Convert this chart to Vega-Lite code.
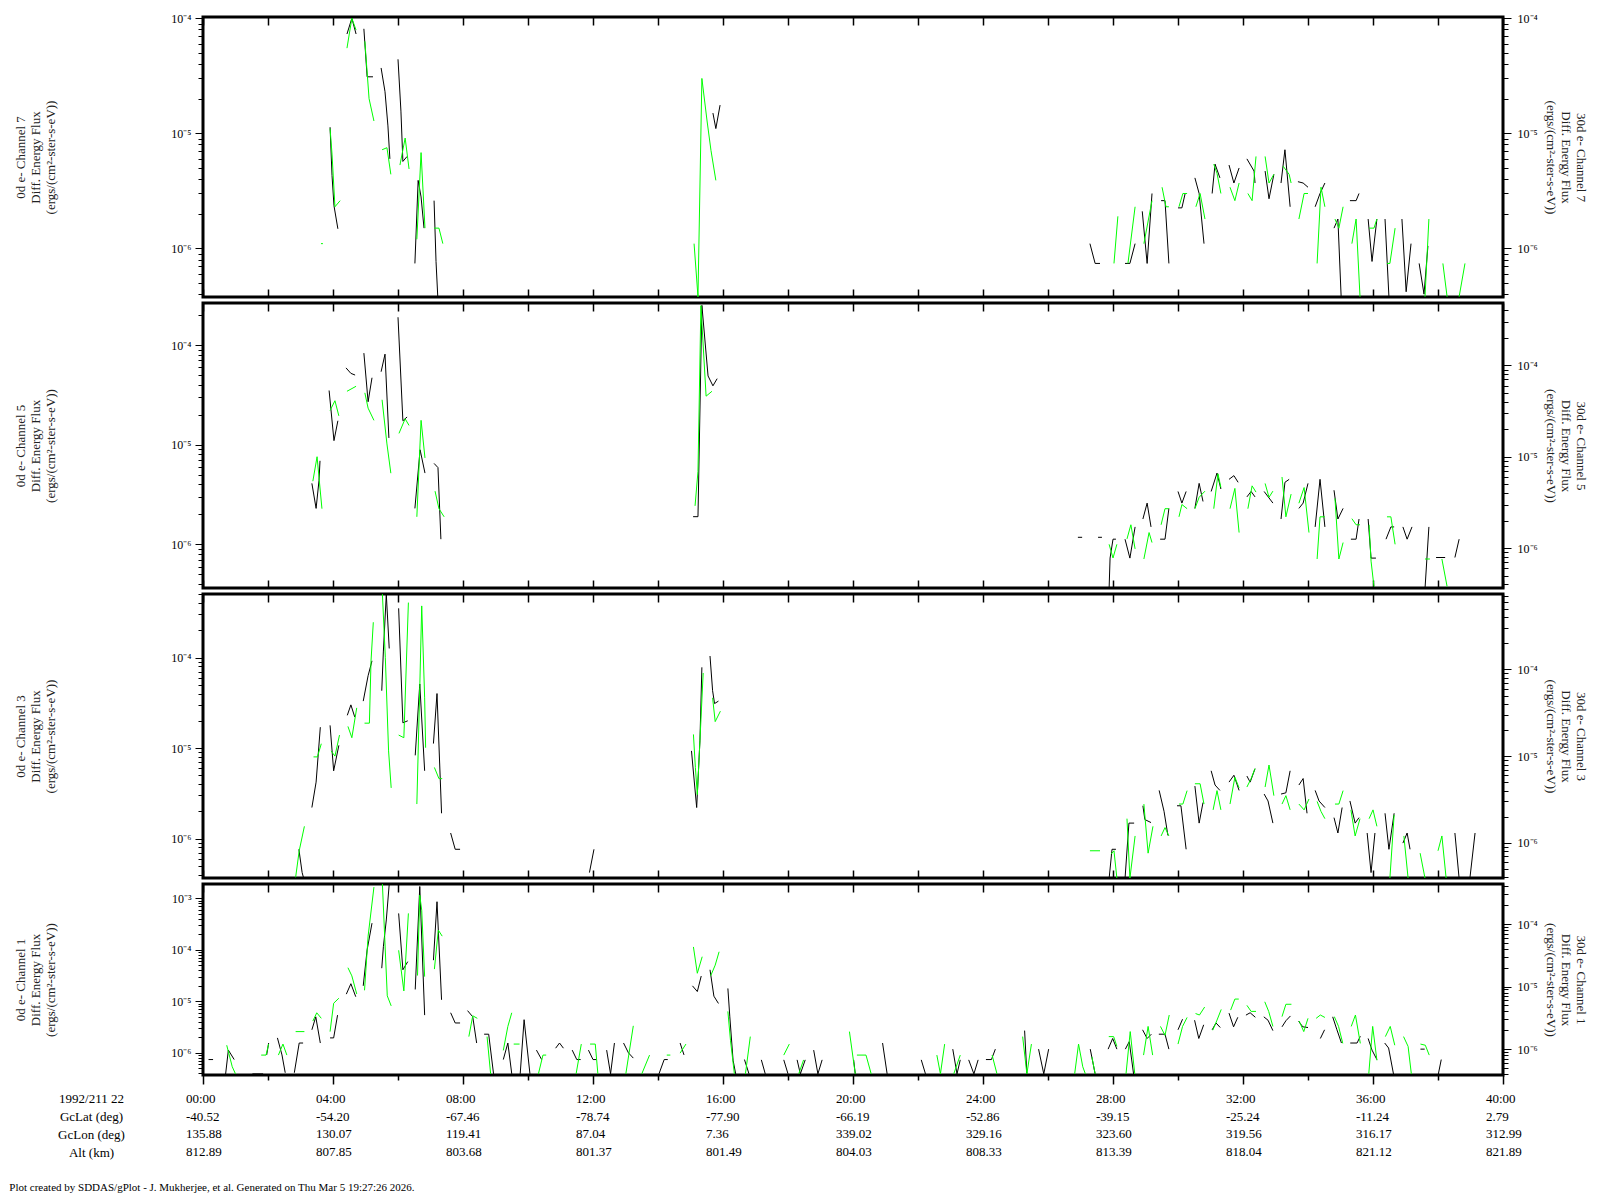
{
"$schema": "https://vega.github.io/schema/vega-lite/v6.json",
"padding": {"left": 9, "top": 10, "right": 0, "bottom": 0},
"background": "white",
"bounds": "flush",
"title": {"text": "Plot created by SDDAS/gPlot - J. Mukherjee, et al.  Generated on Thu Mar 5 19:27:26 2026.", "orient": "bottom", "anchor": "start", "fontSize": 11, "font": "Liberation Serif, Times New Roman, serif", "fontWeight": "normal", "offset": 12, "color": "#000", "dx": -4},
"datasets": {
"p7k": [
{"g":1,"t":3.91,"v":1.13e-5},{"g":1,"t":3.97,"v":4.3e-6},{"g":1,"t":4.03,"v":2.35e-6},{"g":1,"t":4.15,"v":1.48e-6},
{"g":2,"t":4.43,"v":7.3e-5},{"g":2,"t":4.58,"v":1.0e-4},{"g":2,"t":4.71,"v":7.3e-5},
{"g":3,"t":4.95,"v":8.1e-5},{"g":3,"t":5.05,"v":3.1e-5},{"g":3,"t":5.23,"v":3.1e-5},
{"g":4,"t":5.48,"v":3.7e-5},{"g":4,"t":5.6,"v":2.3e-5},{"g":4,"t":5.69,"v":1.16e-5},{"g":4,"t":5.75,"v":6.0e-6},
{"g":5,"t":6.0,"v":4.4e-5},{"g":5,"t":6.09,"v":1.56e-5},{"g":5,"t":6.15,"v":5.7e-6},{"g":5,"t":6.28,"v":6.3e-6},
{"g":6,"t":6.52,"v":7.4e-7},{"g":6,"t":6.62,"v":3.9e-6},{"g":6,"t":6.71,"v":2.8e-6},{"g":6,"t":6.8,"v":1.5e-6},
{"g":7,"t":7.11,"v":2.6e-6},{"g":7,"t":7.17,"v":7.7e-7},{"g":7,"t":7.23,"v":3.5e-7},
{"g":8,"t":15.69,"v":1.5e-5},{"g":8,"t":15.78,"v":1.1e-5},{"g":8,"t":15.91,"v":1.76e-5},
{"g":9,"t":27.29,"v":1.1e-6},{"g":9,"t":27.45,"v":7.4e-7},{"g":9,"t":27.6,"v":7.4e-7},
{"g":10,"t":28.37,"v":7.4e-7},{"g":10,"t":28.52,"v":7.4e-7},{"g":10,"t":28.68,"v":1.1e-6},
{"g":11,"t":28.9,"v":2.1e-6},{"g":11,"t":29.05,"v":7.4e-7},{"g":11,"t":29.2,"v":3.0e-6},
{"g":12,"t":29.48,"v":2.6e-6},{"g":12,"t":29.6,"v":2.6e-6},{"g":12,"t":29.72,"v":7.4e-7},
{"g":13,"t":30.0,"v":2.25e-6},{"g":13,"t":30.12,"v":2.25e-6},{"g":13,"t":30.22,"v":3.0e-6},
{"g":14,"t":30.52,"v":4.1e-6},{"g":14,"t":30.65,"v":3.0e-6},{"g":14,"t":30.8,"v":1.1e-6},
{"g":15,"t":31.05,"v":3.0e-6},{"g":15,"t":31.14,"v":5.4e-6},{"g":15,"t":31.29,"v":4.1e-6},
{"g":16,"t":31.57,"v":5.3e-6},{"g":16,"t":31.72,"v":3.7e-6},{"g":16,"t":31.88,"v":5.0e-6},
{"g":17,"t":32.12,"v":6.0e-6},{"g":17,"t":32.34,"v":4.7e-6},{"g":17,"t":32.37,"v":3.7e-6},
{"g":18,"t":32.68,"v":4.7e-6},{"g":18,"t":32.8,"v":2.7e-6},{"g":18,"t":32.95,"v":4.4e-6},
{"g":19,"t":33.17,"v":3.7e-6},{"g":19,"t":33.29,"v":7.2e-6},{"g":19,"t":33.45,"v":2.3e-6},
{"g":20,"t":33.69,"v":3.8e-6},{"g":20,"t":33.85,"v":3.7e-6},{"g":20,"t":34.0,"v":3.4e-6},
{"g":21,"t":34.22,"v":2.3e-6},{"g":21,"t":34.37,"v":3.0e-6},{"g":21,"t":34.52,"v":3.7e-6},
{"g":22,"t":34.8,"v":1.5e-6},{"g":22,"t":34.92,"v":1.8e-6},{"g":22,"t":35.02,"v":3.8e-7},
{"g":23,"t":35.29,"v":2.6e-6},{"g":23,"t":35.48,"v":2.6e-6},{"g":23,"t":35.57,"v":3.0e-6},
{"g":24,"t":35.85,"v":1.8e-6},{"g":24,"t":35.97,"v":7.7e-7},{"g":24,"t":36.12,"v":1.8e-6},
{"g":25,"t":36.37,"v":1.8e-6},{"g":25,"t":36.49,"v":3.8e-7},
{"g":26,"t":36.89,"v":1.8e-6},{"g":26,"t":37.02,"v":4.2e-7},{"g":26,"t":37.17,"v":1.1e-6},
{"g":27,"t":37.42,"v":7.4e-7},{"g":27,"t":37.57,"v":4.0e-7},{"g":27,"t":37.69,"v":1.05e-6}
],
"p7g": [
{"g":1,"t":3.63,"v":1.1e-6},{"g":1,"t":3.69,"v":1.1e-6},
{"g":2,"t":3.91,"v":1.1e-5},{"g":2,"t":3.97,"v":6.6e-6},{"g":2,"t":4.06,"v":2.3e-6},{"g":2,"t":4.22,"v":2.6e-6},
{"g":3,"t":4.43,"v":5.5e-5},{"g":3,"t":4.58,"v":1.0e-4},{"g":3,"t":4.71,"v":7.9e-5},
{"g":4,"t":4.98,"v":6.3e-5},{"g":4,"t":5.11,"v":2.0e-5},{"g":4,"t":5.26,"v":1.28e-5},
{"g":5,"t":5.51,"v":7.2e-6},{"g":5,"t":5.66,"v":7.5e-6},{"g":5,"t":5.78,"v":4.4e-6},
{"g":6,"t":6.06,"v":5.3e-6},{"g":6,"t":6.22,"v":9.1e-6},{"g":6,"t":6.34,"v":4.9e-6},
{"g":7,"t":6.58,"v":1.2e-6},{"g":7,"t":6.71,"v":6.8e-6},{"g":7,"t":6.83,"v":1.5e-6},
{"g":8,"t":7.11,"v":1.5e-6},{"g":8,"t":7.26,"v":1.5e-6},{"g":8,"t":7.38,"v":1.1e-6},
{"g":9,"t":15.11,"v":1.1e-6},{"g":9,"t":15.23,"v":3.8e-7},{"g":9,"t":15.35,"v":3.0e-5},{"g":9,"t":15.51,"v":1.28e-5},{"g":9,"t":15.63,"v":7.1e-6},{"g":9,"t":15.78,"v":3.9e-6},
{"g":10,"t":28.03,"v":7.4e-7},{"g":10,"t":28.15,"v":1.9e-6},
{"g":11,"t":28.46,"v":7.4e-7},{"g":11,"t":28.68,"v":2.3e-6},
{"g":12,"t":28.95,"v":1.1e-6},{"g":12,"t":29.2,"v":2.6e-6},
{"g":13,"t":29.51,"v":3.4e-6},{"g":13,"t":29.63,"v":2.3e-6},{"g":13,"t":29.72,"v":2.3e-6},
{"g":14,"t":30.03,"v":2.3e-6},{"g":14,"t":30.15,"v":3.0e-6},{"g":14,"t":30.28,"v":3.0e-6},
{"g":15,"t":30.55,"v":2.3e-6},{"g":15,"t":30.68,"v":3.0e-6},{"g":15,"t":30.83,"v":1.8e-6},
{"g":16,"t":31.1,"v":5.4e-6},{"g":16,"t":31.2,"v":4.5e-6},{"g":16,"t":31.32,"v":3.0e-6},
{"g":17,"t":31.6,"v":3.4e-6},{"g":17,"t":31.75,"v":2.6e-6},{"g":17,"t":31.88,"v":3.7e-6},
{"g":18,"t":32.15,"v":3.0e-6},{"g":18,"t":32.28,"v":2.6e-6},{"g":18,"t":32.4,"v":6.3e-6},
{"g":19,"t":32.68,"v":6.3e-6},{"g":19,"t":32.8,"v":3.7e-6},{"g":19,"t":32.95,"v":4.4e-6},
{"g":20,"t":33.23,"v":5.2e-6},{"g":20,"t":33.42,"v":4.4e-6},{"g":20,"t":33.48,"v":3.7e-6},
{"g":21,"t":33.72,"v":1.8e-6},{"g":21,"t":33.88,"v":3.0e-6},{"g":21,"t":34.0,"v":3.0e-6},
{"g":22,"t":34.28,"v":7.4e-7},{"g":22,"t":34.4,"v":3.4e-6},{"g":22,"t":34.52,"v":2.3e-6},
{"g":23,"t":34.83,"v":1.8e-6},{"g":23,"t":34.95,"v":1.5e-6},{"g":23,"t":35.08,"v":2.3e-6},
{"g":24,"t":35.35,"v":1.1e-6},{"g":24,"t":35.48,"v":1.8e-6},{"g":24,"t":35.6,"v":3.8e-7},
{"g":25,"t":35.88,"v":1.5e-6},{"g":25,"t":36.03,"v":1.5e-6},{"g":25,"t":36.12,"v":1.8e-6},
{"g":26,"t":36.43,"v":7.4e-7},{"g":26,"t":36.52,"v":7.4e-7},{"g":26,"t":36.68,"v":1.5e-6},
{"g":27,"t":37.6,"v":3.8e-7},{"g":27,"t":37.72,"v":1.8e-6},
{"g":28,"t":38.15,"v":7.4e-7},{"g":28,"t":38.28,"v":3.8e-7},
{"g":29,"t":38.65,"v":3.8e-7},{"g":29,"t":38.83,"v":7.4e-7}
],
"p5k": [
{"g":1,"t":3.35,"v":4.1e-6},{"g":1,"t":3.48,"v":2.3e-6},{"g":1,"t":3.57,"v":4.4e-6},{"g":1,"t":3.6,"v":6.9e-6},
{"g":2,"t":3.88,"v":3.5e-5},{"g":2,"t":4.03,"v":1.1e-5},{"g":2,"t":4.15,"v":1.74e-5},
{"g":3,"t":4.4,"v":5.9e-5},{"g":3,"t":4.55,"v":5.2e-5},{"g":3,"t":4.68,"v":5.0e-5},
{"g":4,"t":4.95,"v":8.3e-5},{"g":4,"t":5.08,"v":2.7e-5},{"g":4,"t":5.2,"v":4.7e-5},
{"g":5,"t":5.48,"v":5.4e-5},{"g":5,"t":5.6,"v":8.1e-5},{"g":5,"t":5.72,"v":1.17e-5},
{"g":6,"t":6.0,"v":1.9e-4},{"g":6,"t":6.15,"v":1.74e-5},{"g":6,"t":6.28,"v":1.9e-5},
{"g":7,"t":6.52,"v":2.3e-6},{"g":7,"t":6.68,"v":8.9e-6},{"g":7,"t":6.83,"v":5.2e-6},
{"g":8,"t":7.11,"v":6.5e-6},{"g":8,"t":7.23,"v":5.9e-6},{"g":8,"t":7.32,"v":1.13e-6},
{"g":9,"t":15.08,"v":1.9e-6},{"g":9,"t":15.23,"v":1.9e-6},{"g":9,"t":15.35,"v":2.5e-4},{"g":9,"t":15.54,"v":4.9e-5},{"g":9,"t":15.69,"v":3.9e-5},{"g":9,"t":15.82,"v":4.6e-5},
{"g":10,"t":26.92,"v":1.18e-6},{"g":10,"t":27.05,"v":1.18e-6},
{"g":11,"t":27.54,"v":1.18e-6},{"g":11,"t":27.66,"v":1.18e-6},
{"g":12,"t":27.88,"v":3.6e-7},{"g":12,"t":27.91,"v":7.3e-7},{"g":12,"t":28.0,"v":1.13e-6},{"g":12,"t":28.09,"v":1.13e-6},
{"g":13,"t":28.37,"v":1.13e-6},{"g":13,"t":28.52,"v":7.3e-7},{"g":13,"t":28.68,"v":1.5e-6},
{"g":14,"t":28.92,"v":1.8e-6},{"g":14,"t":29.05,"v":2.6e-6},{"g":14,"t":29.17,"v":1.5e-6},
{"g":15,"t":29.45,"v":1.13e-6},{"g":15,"t":29.6,"v":1.13e-6},{"g":15,"t":29.72,"v":2.3e-6},
{"g":16,"t":30.0,"v":3.4e-6},{"g":16,"t":30.12,"v":2.6e-6},{"g":16,"t":30.25,"v":3.4e-6},
{"g":17,"t":30.52,"v":2.3e-6},{"g":17,"t":30.65,"v":4.1e-6},{"g":17,"t":30.77,"v":2.7e-6},
{"g":18,"t":31.02,"v":3.4e-6},{"g":18,"t":31.2,"v":5.2e-6},{"g":18,"t":31.32,"v":3.6e-6},
{"g":19,"t":31.57,"v":4.5e-6},{"g":19,"t":31.72,"v":4.9e-6},{"g":19,"t":31.85,"v":4.2e-6},
{"g":20,"t":32.12,"v":3.0e-6},{"g":20,"t":32.25,"v":3.4e-6},{"g":20,"t":32.37,"v":3.0e-6},
{"g":21,"t":32.65,"v":3.4e-6},{"g":21,"t":32.92,"v":2.6e-6},
{"g":22,"t":33.17,"v":1.8e-6},{"g":22,"t":33.29,"v":4.2e-6},{"g":22,"t":33.42,"v":4.5e-6},
{"g":23,"t":33.72,"v":2.3e-6},{"g":23,"t":33.85,"v":2.6e-6},{"g":23,"t":34.0,"v":4.1e-6},
{"g":24,"t":34.22,"v":1.5e-6},{"g":24,"t":34.37,"v":4.5e-6},{"g":24,"t":34.52,"v":1.5e-6},
{"g":25,"t":34.8,"v":3.5e-6},{"g":25,"t":34.92,"v":1.8e-6},{"g":25,"t":35.08,"v":2.3e-6},
{"g":26,"t":35.32,"v":1.13e-6},{"g":26,"t":35.48,"v":1.13e-6},{"g":26,"t":35.57,"v":1.8e-6},
{"g":27,"t":35.85,"v":1.8e-6},{"g":27,"t":35.94,"v":7.3e-7},{"g":27,"t":36.09,"v":7.3e-7},
{"g":28,"t":36.4,"v":1.13e-6},{"g":28,"t":36.55,"v":1.5e-6},{"g":28,"t":36.65,"v":1.5e-6},
{"g":29,"t":36.92,"v":1.5e-6},{"g":29,"t":37.05,"v":1.13e-6},{"g":29,"t":37.2,"v":1.5e-6},
{"g":30,"t":37.6,"v":3.6e-7},{"g":30,"t":37.72,"v":1.5e-6},
{"g":31,"t":37.94,"v":7.4e-7},{"g":31,"t":38.22,"v":7.4e-7},
{"g":32,"t":38.52,"v":7.4e-7},{"g":32,"t":38.65,"v":1.13e-6}
],
"p5g": [
{"g":1,"t":3.38,"v":5.4e-6},{"g":1,"t":3.51,"v":1.0e-5},{"g":1,"t":3.57,"v":5.9e-6},{"g":1,"t":3.66,"v":2.7e-6},
{"g":2,"t":3.91,"v":3.2e-5},{"g":2,"t":4.06,"v":4.1e-5},{"g":2,"t":4.18,"v":2.8e-5},
{"g":3,"t":4.43,"v":5.2e-5},{"g":3,"t":4.71,"v":5.9e-5},
{"g":4,"t":4.98,"v":5.0e-5},{"g":4,"t":5.08,"v":3.4e-5},{"g":4,"t":5.26,"v":2.5e-5},
{"g":5,"t":5.51,"v":4.2e-5},{"g":5,"t":5.66,"v":1.38e-5},{"g":5,"t":5.78,"v":6.6e-6},
{"g":6,"t":6.03,"v":1.8e-5},{"g":6,"t":6.22,"v":2.6e-5},{"g":6,"t":6.34,"v":2.2e-5},
{"g":7,"t":6.58,"v":2.2e-6},{"g":7,"t":6.71,"v":2.5e-5},{"g":7,"t":6.83,"v":9.7e-6},
{"g":8,"t":7.14,"v":4.2e-6},{"g":8,"t":7.26,"v":2.7e-6},{"g":8,"t":7.42,"v":2.2e-6},
{"g":9,"t":15.14,"v":2.9e-6},{"g":9,"t":15.23,"v":6.9e-6},{"g":9,"t":15.32,"v":4.5e-4},{"g":9,"t":15.48,"v":4.6e-5},{"g":9,"t":15.66,"v":5.2e-5},
{"g":10,"t":27.88,"v":1.1e-6},{"g":10,"t":28.0,"v":7.8e-7},{"g":10,"t":28.12,"v":1.1e-6},
{"g":11,"t":28.43,"v":1.26e-6},{"g":11,"t":28.55,"v":1.8e-6},{"g":11,"t":28.68,"v":9.8e-7},
{"g":12,"t":28.95,"v":7.6e-7},{"g":12,"t":29.11,"v":1.48e-6},{"g":12,"t":29.2,"v":1.15e-6},
{"g":13,"t":29.48,"v":1.8e-6},{"g":13,"t":29.6,"v":2.7e-6},{"g":13,"t":29.72,"v":2.7e-6},
{"g":14,"t":30.03,"v":2.2e-6},{"g":14,"t":30.12,"v":3.0e-6},{"g":14,"t":30.28,"v":2.7e-6},
{"g":15,"t":30.52,"v":2.7e-6},{"g":15,"t":30.65,"v":3.6e-6},{"g":15,"t":30.83,"v":4.2e-6},
{"g":16,"t":31.1,"v":2.7e-6},{"g":16,"t":31.23,"v":6.5e-6},{"g":16,"t":31.32,"v":4.6e-6},
{"g":17,"t":31.6,"v":2.7e-6},{"g":17,"t":31.75,"v":4.5e-6},{"g":17,"t":31.88,"v":1.48e-6},
{"g":18,"t":32.15,"v":2.7e-6},{"g":18,"t":32.28,"v":4.8e-6},{"g":18,"t":32.4,"v":4.1e-6},
{"g":19,"t":32.68,"v":5.1e-6},{"g":19,"t":32.8,"v":3.6e-6},{"g":19,"t":32.92,"v":4.2e-6},
{"g":20,"t":33.2,"v":6.0e-6},{"g":20,"t":33.32,"v":2.2e-6},{"g":20,"t":33.48,"v":3.9e-6},
{"g":21,"t":33.72,"v":3.1e-6},{"g":21,"t":33.88,"v":4.6e-6},{"g":21,"t":34.03,"v":1.48e-6},
{"g":22,"t":34.28,"v":7.6e-7},{"g":22,"t":34.37,"v":2.2e-6},{"g":22,"t":34.52,"v":2.2e-6},
{"g":23,"t":34.83,"v":3.5e-6},{"g":23,"t":34.95,"v":7.6e-7},{"g":23,"t":35.08,"v":1.15e-6},
{"g":24,"t":35.35,"v":2.1e-6},{"g":24,"t":35.48,"v":1.8e-6},{"g":24,"t":35.6,"v":1.8e-6},
{"g":25,"t":35.88,"v":1.8e-6},{"g":25,"t":35.94,"v":7.2e-7},{"g":25,"t":36.03,"v":3.8e-7},
{"g":26,"t":36.43,"v":2.2e-6},{"g":26,"t":36.55,"v":2.2e-6},{"g":26,"t":36.68,"v":1.1e-6},
{"g":27,"t":37.6,"v":7.6e-7},{"g":27,"t":37.75,"v":7.6e-7},
{"g":28,"t":38.12,"v":7.6e-7},{"g":28,"t":38.28,"v":3.8e-7}
],
"p3k": [
{"g":1,"t":2.95,"v":7.6e-7},{"g":1,"t":3.05,"v":4.2e-7},{"g":1,"t":3.11,"v":3.5e-7},
{"g":2,"t":3.35,"v":2.2e-6},{"g":2,"t":3.48,"v":4.2e-6},{"g":2,"t":3.61,"v":1.7e-5},
{"g":3,"t":3.91,"v":1.78e-5},{"g":3,"t":4.02,"v":5.6e-6},{"g":3,"t":4.18,"v":1.07e-5},
{"g":4,"t":4.44,"v":2.3e-5},{"g":4,"t":4.55,"v":3.0e-5},{"g":4,"t":4.67,"v":2.2e-5},
{"g":5,"t":4.93,"v":3.3e-5},{"g":5,"t":5.08,"v":6.3e-5},{"g":5,"t":5.2,"v":9.2e-5},
{"g":6,"t":5.5,"v":4.3e-5},{"g":6,"t":5.55,"v":1.18e-4},{"g":6,"t":5.64,"v":5.0e-4},{"g":6,"t":5.73,"v":1.26e-4},
{"g":7,"t":6.02,"v":3.5e-4},{"g":7,"t":6.15,"v":1.9e-5},{"g":7,"t":6.3,"v":2.0e-5},
{"g":8,"t":6.53,"v":8.3e-6},{"g":8,"t":6.67,"v":5.1e-5},{"g":8,"t":6.82,"v":5.6e-6},
{"g":9,"t":7.09,"v":1.12e-5},{"g":9,"t":7.2,"v":4.0e-5},{"g":9,"t":7.34,"v":1.9e-6},
{"g":10,"t":7.62,"v":1.15e-6},{"g":10,"t":7.76,"v":7.6e-7},{"g":10,"t":7.91,"v":7.6e-7},
{"g":11,"t":11.89,"v":4.2e-7},{"g":11,"t":12.03,"v":7.6e-7},
{"g":12,"t":15.03,"v":9.3e-6},{"g":12,"t":15.19,"v":2.2e-6},{"g":12,"t":15.29,"v":1.2e-5},{"g":12,"t":15.35,"v":7.8e-5},
{"g":13,"t":15.6,"v":1.04e-4},{"g":13,"t":15.68,"v":4.3e-5},{"g":13,"t":15.74,"v":3.1e-5},{"g":13,"t":15.86,"v":3.3e-5},
{"g":14,"t":27.88,"v":3.6e-7},{"g":14,"t":27.97,"v":7.6e-7},{"g":14,"t":28.09,"v":7.6e-7},
{"g":15,"t":28.37,"v":3.6e-7},{"g":15,"t":28.49,"v":1.48e-6},{"g":15,"t":28.65,"v":1.48e-6},
{"g":16,"t":28.92,"v":2.3e-6},{"g":16,"t":28.98,"v":1.62e-6},{"g":16,"t":29.17,"v":1.5e-6},
{"g":17,"t":29.42,"v":3.4e-6},{"g":17,"t":29.57,"v":2.0e-6},{"g":17,"t":29.69,"v":1.08e-6},
{"g":18,"t":29.97,"v":2.3e-6},{"g":18,"t":30.09,"v":2.3e-6},{"g":18,"t":30.25,"v":7.6e-7},
{"g":19,"t":30.52,"v":3.8e-6},{"g":19,"t":30.65,"v":1.48e-6},{"g":19,"t":30.77,"v":2.5e-6},
{"g":20,"t":31.02,"v":5.6e-6},{"g":20,"t":31.14,"v":3.9e-6},{"g":20,"t":31.29,"v":3.4e-6},
{"g":21,"t":31.57,"v":4.2e-6},{"g":21,"t":31.72,"v":5.0e-6},{"g":21,"t":31.88,"v":3.4e-6},
{"g":22,"t":32.12,"v":4.9e-6},{"g":22,"t":32.22,"v":4.2e-6},{"g":22,"t":32.37,"v":5.9e-6},
{"g":23,"t":32.65,"v":3.1e-6},{"g":23,"t":32.77,"v":2.6e-6},{"g":23,"t":32.92,"v":1.48e-6},
{"g":24,"t":33.17,"v":3.1e-6},{"g":24,"t":33.32,"v":3.2e-6},{"g":24,"t":33.45,"v":5.6e-6},
{"g":25,"t":33.72,"v":3.9e-6},{"g":25,"t":33.85,"v":4.6e-6},{"g":25,"t":33.97,"v":1.9e-6},
{"g":26,"t":34.22,"v":3.4e-6},{"g":26,"t":34.34,"v":2.6e-6},{"g":26,"t":34.52,"v":2.2e-6},
{"g":27,"t":34.8,"v":1.7e-6},{"g":27,"t":34.92,"v":1.15e-6},{"g":27,"t":35.05,"v":2.2e-6},
{"g":28,"t":35.29,"v":2.6e-6},{"g":28,"t":35.45,"v":1.48e-6},{"g":28,"t":35.57,"v":1.7e-6},
{"g":29,"t":35.82,"v":1.15e-6},{"g":29,"t":35.94,"v":4.2e-7},{"g":29,"t":36.06,"v":1.15e-6},
{"g":30,"t":36.37,"v":1.9e-6},{"g":30,"t":36.49,"v":7.6e-7},{"g":30,"t":36.65,"v":1.9e-6},
{"g":31,"t":36.92,"v":8.9e-7},{"g":31,"t":37.05,"v":1.15e-6},{"g":31,"t":37.14,"v":7.6e-7},
{"g":32,"t":38.52,"v":1.15e-6},{"g":32,"t":38.65,"v":3.6e-7},
{"g":33,"t":38.98,"v":3.6e-7},{"g":33,"t":39.14,"v":1.15e-6}
],
"p3g": [
{"g":1,"t":2.85,"v":4.0e-7},{"g":1,"t":2.96,"v":8.1e-7},{"g":1,"t":3.12,"v":1.55e-6},
{"g":2,"t":3.4,"v":9.8e-6},{"g":2,"t":3.52,"v":9.8e-6},{"g":2,"t":3.64,"v":1.39e-5},
{"g":3,"t":3.94,"v":1.15e-5},{"g":3,"t":4.06,"v":1.0e-5},{"g":3,"t":4.2,"v":1.75e-5},
{"g":4,"t":4.46,"v":2.2e-5},{"g":4,"t":4.58,"v":1.63e-5},{"g":4,"t":4.73,"v":3.6e-5},
{"g":5,"t":4.97,"v":2.4e-5},{"g":5,"t":5.12,"v":2.4e-5},{"g":5,"t":5.17,"v":1.25e-4},{"g":5,"t":5.24,"v":3.5e-4},
{"g":6,"t":5.52,"v":7.4e-4},{"g":6,"t":5.61,"v":1.38e-4},{"g":6,"t":5.71,"v":1.15e-5},{"g":6,"t":5.79,"v":4.3e-6},
{"g":7,"t":6.02,"v":1.75e-5},{"g":7,"t":6.18,"v":1.63e-5},{"g":7,"t":6.32,"v":5.9e-4},
{"g":8,"t":6.58,"v":2.8e-6},{"g":8,"t":6.67,"v":6.2e-5},{"g":8,"t":6.73,"v":5.4e-4},{"g":8,"t":6.82,"v":4.7e-5},{"g":8,"t":6.85,"v":1.25e-5},
{"g":9,"t":7.12,"v":7.4e-6},{"g":9,"t":7.26,"v":5.5e-6},{"g":9,"t":7.36,"v":5.5e-6},
{"g":10,"t":15.09,"v":1.78e-5},{"g":10,"t":15.15,"v":7.4e-6},{"g":10,"t":15.21,"v":3.6e-6},{"g":10,"t":15.29,"v":1.5e-5},{"g":10,"t":15.39,"v":9.1e-5},
{"g":11,"t":15.68,"v":4.7e-5},{"g":11,"t":15.76,"v":2.5e-5},{"g":11,"t":15.92,"v":3.3e-5},
{"g":12,"t":27.29,"v":8.1e-7},{"g":12,"t":27.6,"v":8.1e-7},
{"g":13,"t":27.94,"v":7.4e-7},{"g":13,"t":28.03,"v":8.1e-7},{"g":13,"t":28.12,"v":3.9e-7},
{"g":14,"t":28.43,"v":1.9e-6},{"g":14,"t":28.52,"v":3.9e-7},{"g":14,"t":28.68,"v":1.2e-6},
{"g":15,"t":28.95,"v":2.8e-6},{"g":15,"t":29.08,"v":7.6e-7},{"g":15,"t":29.23,"v":1.55e-6},
{"g":16,"t":29.48,"v":1.2e-6},{"g":16,"t":29.6,"v":1.5e-6},{"g":16,"t":29.72,"v":1.2e-6},
{"g":17,"t":30.03,"v":2.8e-6},{"g":17,"t":30.15,"v":2.8e-6},{"g":17,"t":30.28,"v":4.0e-6},
{"g":18,"t":30.52,"v":4.8e-6},{"g":18,"t":30.68,"v":4.8e-6},{"g":18,"t":30.8,"v":2.8e-6},
{"g":19,"t":31.08,"v":2.4e-6},{"g":19,"t":31.2,"v":4.0e-6},{"g":19,"t":31.32,"v":2.4e-6},
{"g":20,"t":31.6,"v":2.8e-6},{"g":20,"t":31.75,"v":5.7e-6},{"g":20,"t":31.88,"v":4.3e-6},
{"g":21,"t":32.12,"v":4.4e-6},{"g":21,"t":32.25,"v":5.5e-6},{"g":21,"t":32.37,"v":7.2e-6},
{"g":22,"t":32.68,"v":4.4e-6},{"g":22,"t":32.8,"v":7.9e-6},{"g":22,"t":32.95,"v":3.5e-6},
{"g":23,"t":33.2,"v":2.8e-6},{"g":23,"t":33.32,"v":3.5e-6},{"g":23,"t":33.45,"v":2.4e-6},
{"g":24,"t":33.72,"v":2.8e-6},{"g":24,"t":33.88,"v":2.4e-6},{"g":24,"t":34.03,"v":3.2e-6},
{"g":25,"t":34.28,"v":3.0e-6},{"g":25,"t":34.4,"v":2.3e-6},{"g":25,"t":34.52,"v":1.9e-6},
{"g":26,"t":34.83,"v":2.8e-6},{"g":26,"t":34.95,"v":2.8e-6},{"g":26,"t":35.08,"v":4.0e-6},
{"g":27,"t":35.32,"v":2.4e-6},{"g":27,"t":35.45,"v":1.2e-6},{"g":27,"t":35.6,"v":1.9e-6},
{"g":28,"t":35.88,"v":1.9e-6},{"g":28,"t":36.0,"v":2.4e-6},{"g":28,"t":36.12,"v":1.55e-6},
{"g":29,"t":36.52,"v":3.9e-7},{"g":29,"t":36.65,"v":2.1e-6},
{"g":30,"t":36.95,"v":1.2e-6},{"g":30,"t":37.08,"v":3.9e-7},
{"g":31,"t":37.45,"v":7.6e-7},{"g":31,"t":37.6,"v":3.9e-7},
{"g":32,"t":38.0,"v":8.1e-7},{"g":32,"t":38.12,"v":1.2e-6},{"g":32,"t":38.25,"v":3.9e-7}
],
"p1k": [
{"g":1,"t":0.17,"v":7.4e-7},{"g":1,"t":0.31,"v":7.4e-7},
{"g":2,"t":0.69,"v":3.6e-7},{"g":2,"t":0.78,"v":1.13e-6},{"g":2,"t":0.96,"v":7.4e-7},
{"g":3,"t":1.52,"v":3.9e-7},{"g":3,"t":1.85,"v":3.9e-7},
{"g":4,"t":1.96,"v":9.1e-7},{"g":4,"t":2.02,"v":1.55e-6},
{"g":5,"t":2.29,"v":1.95e-6},{"g":5,"t":2.43,"v":9.1e-7},{"g":5,"t":2.53,"v":4.1e-7},
{"g":6,"t":2.81,"v":4.1e-7},{"g":6,"t":2.96,"v":1.55e-6},{"g":6,"t":3.08,"v":1.55e-6},
{"g":7,"t":3.35,"v":2.8e-6},{"g":7,"t":3.47,"v":5.0e-6},{"g":7,"t":3.61,"v":1.55e-6},
{"g":8,"t":3.91,"v":1.95e-6},{"g":8,"t":4.02,"v":1.95e-6},{"g":8,"t":4.14,"v":5.4e-6},
{"g":9,"t":4.41,"v":1.38e-5},{"g":9,"t":4.55,"v":2.2e-5},{"g":9,"t":4.7,"v":1.23e-5},
{"g":10,"t":4.93,"v":2.0e-5},{"g":10,"t":5.05,"v":1.0e-4},{"g":10,"t":5.2,"v":3.3e-4},
{"g":11,"t":5.5,"v":4.4e-5},{"g":11,"t":5.55,"v":1.15e-4},{"g":11,"t":5.64,"v":3.8e-4},{"g":11,"t":5.73,"v":1.9e-3},
{"g":12,"t":6.02,"v":5.1e-4},{"g":12,"t":6.15,"v":4.1e-5},{"g":12,"t":6.3,"v":5.9e-5},
{"g":13,"t":6.53,"v":1.7e-5},{"g":13,"t":6.67,"v":1.7e-3},{"g":13,"t":6.82,"v":5.4e-6},
{"g":14,"t":7.09,"v":6.3e-5},{"g":14,"t":7.2,"v":8.6e-4},{"g":14,"t":7.34,"v":1.07e-5},
{"g":15,"t":7.62,"v":6.0e-6},{"g":15,"t":7.76,"v":3.8e-6},{"g":15,"t":7.91,"v":3.8e-6},
{"g":16,"t":8.14,"v":6.6e-6},{"g":16,"t":8.3,"v":5.0e-6},{"g":16,"t":8.42,"v":1.55e-6},
{"g":17,"t":8.65,"v":2.3e-6},{"g":17,"t":8.79,"v":2.3e-6},{"g":17,"t":8.94,"v":3.9e-7},
{"g":18,"t":9.24,"v":7.4e-7},{"g":18,"t":9.38,"v":1.55e-6},{"g":18,"t":9.5,"v":3.9e-7},
{"g":19,"t":9.76,"v":3.9e-7},{"g":19,"t":9.88,"v":4.4e-6},{"g":19,"t":10.06,"v":3.9e-7},
{"g":20,"t":10.26,"v":1.13e-6},{"g":20,"t":10.42,"v":7.4e-7},
{"g":21,"t":10.85,"v":1.23e-6},{"g":21,"t":10.97,"v":1.55e-6},{"g":21,"t":11.09,"v":1.23e-6},
{"g":22,"t":11.36,"v":1.13e-6},{"g":22,"t":11.5,"v":7.4e-7},{"g":22,"t":11.62,"v":7.4e-7},
{"g":23,"t":11.86,"v":1.13e-6},{"g":23,"t":12.0,"v":7.4e-7},{"g":23,"t":12.11,"v":7.4e-7},
{"g":24,"t":12.42,"v":1.13e-6},{"g":24,"t":12.54,"v":3.9e-7},{"g":24,"t":12.66,"v":1.55e-6},
{"g":25,"t":12.94,"v":1.55e-6},{"g":25,"t":13.09,"v":1.0e-6},{"g":25,"t":13.24,"v":7.9e-7},
{"g":26,"t":14.03,"v":3.9e-7},{"g":26,"t":14.19,"v":7.4e-7},{"g":26,"t":14.3,"v":7.4e-7},
{"g":27,"t":14.68,"v":1.55e-6},{"g":27,"t":14.8,"v":9.1e-7},
{"g":28,"t":15.06,"v":2.0e-5},{"g":28,"t":15.21,"v":1.55e-5},{"g":28,"t":15.33,"v":3.1e-5},
{"g":29,"t":15.6,"v":4.1e-5},{"g":29,"t":15.72,"v":1.26e-5},{"g":29,"t":15.86,"v":9.1e-6},
{"g":30,"t":16.15,"v":1.78e-5},{"g":30,"t":16.21,"v":5.0e-6},{"g":30,"t":16.31,"v":7.2e-7},{"g":30,"t":16.39,"v":3.9e-7},
{"g":31,"t":16.66,"v":7.4e-7},{"g":31,"t":16.8,"v":3.9e-7},
{"g":32,"t":17.18,"v":7.3e-7},{"g":32,"t":17.3,"v":3.9e-7},
{"g":33,"t":17.87,"v":7.3e-7},{"g":33,"t":18.0,"v":3.9e-7},
{"g":34,"t":18.28,"v":7.3e-7},{"g":34,"t":18.38,"v":3.9e-7},{"g":34,"t":18.53,"v":7.3e-7},
{"g":35,"t":18.79,"v":1.13e-6},{"g":35,"t":18.92,"v":3.9e-7},{"g":35,"t":19.05,"v":7.3e-7},
{"g":36,"t":20.02,"v":7.3e-7},{"g":36,"t":20.07,"v":3.9e-7},
{"g":37,"t":20.91,"v":1.55e-6},{"g":37,"t":21.05,"v":3.9e-7},
{"g":38,"t":22.1,"v":7.3e-7},{"g":38,"t":22.23,"v":3.9e-7},
{"g":39,"t":23.07,"v":1.18e-6},{"g":39,"t":23.2,"v":3.9e-7},{"g":39,"t":23.3,"v":7.3e-7},
{"g":40,"t":23.56,"v":7.3e-7},{"g":40,"t":23.72,"v":3.9e-7},{"g":40,"t":23.85,"v":7.3e-7},
{"g":41,"t":24.09,"v":7.4e-7},{"g":41,"t":24.26,"v":7.4e-7},{"g":41,"t":24.38,"v":1.18e-6},
{"g":42,"t":25.28,"v":2.7e-6},{"g":42,"t":25.35,"v":3.9e-7},
{"g":43,"t":25.71,"v":1.18e-6},{"g":43,"t":25.87,"v":3.9e-7},{"g":43,"t":26.02,"v":1.18e-6},
{"g":44,"t":27.3,"v":1.18e-6},{"g":44,"t":27.45,"v":3.9e-7},
{"g":45,"t":27.85,"v":1.18e-6},{"g":45,"t":27.99,"v":1.9e-6},{"g":45,"t":28.12,"v":1.18e-6},
{"g":46,"t":28.38,"v":1.18e-6},{"g":46,"t":28.5,"v":1.65e-6},{"g":46,"t":28.64,"v":3.6e-7},
{"g":47,"t":28.91,"v":2.8e-6},{"g":47,"t":29.05,"v":1.9e-6},{"g":47,"t":29.18,"v":2.3e-6},
{"g":48,"t":29.41,"v":2.3e-6},{"g":48,"t":29.6,"v":2.3e-6},{"g":48,"t":29.72,"v":1.18e-6},
{"g":49,"t":30.0,"v":2.8e-6},{"g":49,"t":30.14,"v":4.5e-6},
{"g":50,"t":30.51,"v":4.3e-6},{"g":50,"t":30.64,"v":1.9e-6},{"g":50,"t":30.79,"v":3.5e-6},
{"g":51,"t":31.05,"v":2.8e-6},{"g":51,"t":31.17,"v":3.8e-6},{"g":51,"t":31.3,"v":3.1e-6},
{"g":52,"t":31.57,"v":5.9e-6},{"g":52,"t":31.71,"v":3.2e-6},{"g":52,"t":31.84,"v":4.9e-6},
{"g":53,"t":32.09,"v":5.4e-6},{"g":53,"t":32.22,"v":6.0e-6},{"g":53,"t":32.38,"v":4.9e-6},
{"g":54,"t":32.64,"v":5.0e-6},{"g":54,"t":32.77,"v":4.3e-6},{"g":54,"t":32.92,"v":2.7e-6},
{"g":55,"t":33.2,"v":3.2e-6},{"g":55,"t":33.32,"v":4.2e-6},{"g":55,"t":33.46,"v":5.2e-6},
{"g":56,"t":33.71,"v":4.1e-6},{"g":56,"t":33.84,"v":3.2e-6},{"g":56,"t":34.0,"v":3.1e-6},
{"g":57,"t":34.38,"v":1.9e-6},{"g":57,"t":34.51,"v":2.8e-6},
{"g":58,"t":34.76,"v":5.0e-6},{"g":58,"t":34.89,"v":2.8e-6},{"g":58,"t":35.03,"v":1.55e-6},
{"g":59,"t":35.3,"v":1.55e-6},{"g":59,"t":35.51,"v":1.55e-6},{"g":59,"t":35.61,"v":2.1e-6},
{"g":60,"t":35.85,"v":1.9e-6},{"g":60,"t":35.97,"v":1.13e-6},{"g":60,"t":36.12,"v":7.4e-7},
{"g":61,"t":36.36,"v":1.55e-6},{"g":61,"t":36.48,"v":1.24e-6},{"g":61,"t":36.64,"v":3.6e-7},
{"g":62,"t":37.46,"v":1.18e-6},{"g":62,"t":37.59,"v":1.18e-6},
{"g":63,"t":38.0,"v":3.6e-7},{"g":63,"t":38.1,"v":7.4e-7}
],
"p1g": [
{"g":1,"t":0.73,"v":1.15e-6},{"g":1,"t":0.9,"v":5.2e-7},{"g":1,"t":1.0,"v":4.0e-7},
{"g":2,"t":1.79,"v":8.0e-7},{"g":2,"t":1.94,"v":8.0e-7},{"g":2,"t":2.02,"v":1.2e-6},
{"g":3,"t":2.32,"v":8.0e-7},{"g":3,"t":2.46,"v":1.2e-6},{"g":3,"t":2.58,"v":8.0e-7},
{"g":4,"t":2.85,"v":1.9e-6},{"g":4,"t":3.12,"v":1.9e-6},
{"g":5,"t":3.38,"v":2.8e-6},{"g":5,"t":3.5,"v":3.8e-6},{"g":5,"t":3.64,"v":3.1e-6},
{"g":6,"t":3.91,"v":1.9e-6},{"g":6,"t":4.02,"v":5.4e-6},{"g":6,"t":4.18,"v":6.5e-6},
{"g":7,"t":4.46,"v":2.0e-5},{"g":7,"t":4.58,"v":1.48e-5},{"g":7,"t":4.73,"v":7.6e-6},
{"g":8,"t":4.97,"v":8.7e-6},{"g":8,"t":5.08,"v":6.4e-5},{"g":8,"t":5.26,"v":3.9e-4},
{"g":9,"t":5.52,"v":4.4e-4},{"g":9,"t":5.59,"v":6.3e-5},{"g":9,"t":5.67,"v":7.1e-6},{"g":9,"t":5.79,"v":4.9e-6},
{"g":10,"t":6.02,"v":3.8e-5},{"g":10,"t":6.18,"v":8.5e-6},{"g":10,"t":6.32,"v":1.48e-4},
{"g":11,"t":6.6,"v":1.5e-5},{"g":11,"t":6.67,"v":2.9e-4},{"g":11,"t":6.73,"v":1.66e-4},{"g":11,"t":6.82,"v":1.44e-5},
{"g":12,"t":7.12,"v":1.9e-5},{"g":12,"t":7.24,"v":8.0e-5},{"g":12,"t":7.36,"v":6.4e-5},
{"g":13,"t":8.18,"v":1.58e-6},{"g":13,"t":8.3,"v":3.4e-6},{"g":13,"t":8.44,"v":3.1e-6},
{"g":14,"t":8.74,"v":1.58e-6},{"g":14,"t":8.85,"v":4.0e-7},
{"g":15,"t":9.24,"v":9.5e-7},{"g":15,"t":9.38,"v":2.3e-6},{"g":15,"t":9.5,"v":3.8e-6},
{"g":16,"t":9.56,"v":1.2e-6},{"g":16,"t":9.74,"v":1.2e-6},
{"g":17,"t":10.32,"v":4.0e-7},{"g":17,"t":10.46,"v":8.0e-7},{"g":17,"t":10.56,"v":8.0e-7},
{"g":18,"t":11.48,"v":4.0e-7},{"g":18,"t":11.64,"v":1.2e-6},
{"g":19,"t":11.91,"v":1.2e-6},{"g":19,"t":12.07,"v":1.2e-6},{"g":19,"t":12.15,"v":4.0e-7},
{"g":20,"t":13.01,"v":4.0e-7},{"g":20,"t":13.24,"v":2.35e-6},
{"g":21,"t":13.5,"v":4.0e-7},{"g":21,"t":13.74,"v":8.0e-7},
{"g":22,"t":14.27,"v":8.0e-7},{"g":22,"t":14.38,"v":8.0e-7},
{"g":23,"t":14.68,"v":8.6e-7},{"g":23,"t":14.86,"v":1.2e-6},
{"g":24,"t":15.09,"v":4.3e-5},{"g":24,"t":15.21,"v":1.63e-5},{"g":24,"t":15.36,"v":3.0e-5},
{"g":25,"t":15.62,"v":1.48e-5},{"g":25,"t":15.76,"v":2.2e-5},{"g":25,"t":15.88,"v":3.6e-5},
{"g":26,"t":16.15,"v":4.0e-6},{"g":26,"t":16.23,"v":1.38e-6},{"g":26,"t":16.35,"v":4.0e-7},
{"g":27,"t":16.69,"v":4.0e-7},{"g":27,"t":16.84,"v":1.58e-6},
{"g":28,"t":17.87,"v":8.0e-7},{"g":28,"t":18.04,"v":1.2e-6},
{"g":29,"t":18.33,"v":4.0e-7},{"g":29,"t":18.48,"v":6.7e-7},
{"g":30,"t":19.89,"v":1.9e-6},{"g":30,"t":20.07,"v":4.0e-7},
{"g":31,"t":20.12,"v":8.0e-7},{"g":31,"t":20.4,"v":8.0e-7},{"g":31,"t":20.56,"v":4.0e-7},
{"g":32,"t":22.58,"v":8.0e-7},{"g":32,"t":22.69,"v":4.0e-7},{"g":32,"t":22.82,"v":1.2e-6},
{"g":33,"t":23.1,"v":4.0e-7},{"g":33,"t":23.3,"v":8.0e-7},
{"g":34,"t":24.28,"v":8.0e-7},{"g":34,"t":24.43,"v":4.0e-7},
{"g":35,"t":25.22,"v":1.58e-6},{"g":35,"t":25.35,"v":4.0e-7},{"g":35,"t":25.49,"v":1.2e-6},
{"g":36,"t":26.82,"v":4.0e-7},{"g":36,"t":26.94,"v":1.2e-6},{"g":36,"t":27.07,"v":5.2e-7},{"g":36,"t":27.15,"v":4.0e-7},
{"g":37,"t":27.35,"v":7.5e-7},{"g":37,"t":27.45,"v":4.0e-7},
{"g":38,"t":27.87,"v":1.58e-6},{"g":38,"t":28.02,"v":1.58e-6},{"g":38,"t":28.12,"v":1.1e-6},
{"g":39,"t":28.4,"v":4.0e-7},{"g":39,"t":28.53,"v":1.9e-6},{"g":39,"t":28.67,"v":4.0e-7},
{"g":40,"t":28.94,"v":8.0e-7},{"g":40,"t":29.08,"v":2.3e-6},{"g":40,"t":29.22,"v":8.0e-7},
{"g":41,"t":29.46,"v":2.3e-6},{"g":41,"t":29.6,"v":1.66e-6},{"g":41,"t":29.73,"v":3.5e-6},
{"g":42,"t":30.0,"v":1.2e-6},{"g":42,"t":30.14,"v":2.3e-6},{"g":42,"t":30.28,"v":3.2e-6},
{"g":43,"t":30.54,"v":3.7e-6},{"g":43,"t":30.66,"v":3.5e-6},{"g":43,"t":30.82,"v":4.7e-6},
{"g":44,"t":31.07,"v":2.0e-6},{"g":44,"t":31.2,"v":2.9e-6},{"g":44,"t":31.33,"v":4.3e-6},
{"g":45,"t":31.62,"v":4.2e-6},{"g":45,"t":31.75,"v":6.3e-6},{"g":45,"t":31.87,"v":6.3e-6},
{"g":46,"t":32.12,"v":5.0e-6},{"g":46,"t":32.25,"v":4.0e-6},{"g":46,"t":32.4,"v":4.0e-6},
{"g":47,"t":32.67,"v":5.7e-6},{"g":47,"t":32.79,"v":4.0e-6},{"g":47,"t":32.92,"v":2.3e-6},
{"g":48,"t":33.2,"v":3.3e-6},{"g":48,"t":33.32,"v":5.2e-6},{"g":48,"t":33.49,"v":5.2e-6},
{"g":49,"t":33.73,"v":2.8e-6},{"g":49,"t":33.87,"v":1.9e-6},{"g":49,"t":34.0,"v":3.1e-6},
{"g":50,"t":34.25,"v":3.1e-6},{"g":50,"t":34.38,"v":3.5e-6},{"g":50,"t":34.52,"v":3.2e-6},
{"g":51,"t":34.81,"v":3.3e-6},{"g":51,"t":34.94,"v":2.3e-6},{"g":51,"t":35.07,"v":1.23e-6},
{"g":52,"t":35.33,"v":2.3e-6},{"g":52,"t":35.46,"v":3.5e-6},{"g":52,"t":35.61,"v":1.23e-6},
{"g":53,"t":35.87,"v":4.0e-7},{"g":53,"t":35.99,"v":2.3e-6},{"g":53,"t":36.12,"v":6.6e-7},
{"g":54,"t":36.38,"v":1.58e-6},{"g":54,"t":36.53,"v":2.3e-6},{"g":54,"t":36.67,"v":1.15e-6},
{"g":55,"t":36.94,"v":1.58e-6},{"g":55,"t":37.08,"v":1.1e-6},{"g":55,"t":37.18,"v":4.0e-7},
{"g":56,"t":37.46,"v":1.2e-6},{"g":56,"t":37.61,"v":1.15e-6},{"g":56,"t":37.73,"v":8.0e-7}
],
"ann": [
{"t":0,"r":"1992/211 22","label":"00:00"},{"t":4,"r":"1992/211 22","label":"04:00"},{"t":8,"r":"1992/211 22","label":"08:00"},{"t":12,"r":"1992/211 22","label":"12:00"},{"t":16,"r":"1992/211 22","label":"16:00"},{"t":20,"r":"1992/211 22","label":"20:00"},{"t":24,"r":"1992/211 22","label":"24:00"},{"t":28,"r":"1992/211 22","label":"28:00"},{"t":32,"r":"1992/211 22","label":"32:00"},{"t":36,"r":"1992/211 22","label":"36:00"},{"t":40,"r":"1992/211 22","label":"40:00"},
{"t":0,"r":"GcLat (deg)","label":"-40.52"},{"t":4,"r":"GcLat (deg)","label":"-54.20"},{"t":8,"r":"GcLat (deg)","label":"-67.46"},{"t":12,"r":"GcLat (deg)","label":"-78.74"},{"t":16,"r":"GcLat (deg)","label":"-77.90"},{"t":20,"r":"GcLat (deg)","label":"-66.19"},{"t":24,"r":"GcLat (deg)","label":"-52.86"},{"t":28,"r":"GcLat (deg)","label":"-39.15"},{"t":32,"r":"GcLat (deg)","label":"-25.24"},{"t":36,"r":"GcLat (deg)","label":"-11.24"},{"t":40,"r":"GcLat (deg)","label":"2.79"},
{"t":0,"r":"GcLon (deg)","label":"135.88"},{"t":4,"r":"GcLon (deg)","label":"130.07"},{"t":8,"r":"GcLon (deg)","label":"119.41"},{"t":12,"r":"GcLon (deg)","label":"87.04"},{"t":16,"r":"GcLon (deg)","label":"7.36"},{"t":20,"r":"GcLon (deg)","label":"339.02"},{"t":24,"r":"GcLon (deg)","label":"329.16"},{"t":28,"r":"GcLon (deg)","label":"323.60"},{"t":32,"r":"GcLon (deg)","label":"319.56"},{"t":36,"r":"GcLon (deg)","label":"316.17"},{"t":40,"r":"GcLon (deg)","label":"312.99"},
{"t":0,"r":"Alt (km)","label":"812.89"},{"t":4,"r":"Alt (km)","label":"807.85"},{"t":8,"r":"Alt (km)","label":"803.68"},{"t":12,"r":"Alt (km)","label":"801.37"},{"t":16,"r":"Alt (km)","label":"801.49"},{"t":20,"r":"Alt (km)","label":"804.03"},{"t":24,"r":"Alt (km)","label":"808.33"},{"t":28,"r":"Alt (km)","label":"813.39"},{"t":32,"r":"Alt (km)","label":"818.04"},{"t":36,"r":"Alt (km)","label":"821.12"},{"t":40,"r":"Alt (km)","label":"821.89"}
]
},
"spacing": 6,
"vconcat": [
{"width": 1300, "height": 280,
 "layer": [
  {"data": {"name": "p7k"},
   "mark": {"type": "line", "color": "#000000", "strokeWidth": 1, "clip": true},
   "encoding": {
    "x": {"field": "t", "type": "quantitative", "scale": {"domain": [0, 40], "nice": false, "zero": false}, "axis": {"orient": "top", "values": [0,2,4,6,8,10,12,14,16,18,20,22,24,26,28,30,32,34,36,38,40], "labels": false, "tickSize": -8, "tickWidth": 1.5, "title": null}},
    "y": {"field": "v", "type": "quantitative", "scale": {"type": "log", "domain": [3.78e-7, 1.026e-4], "nice": false}, "axis": {"orient": "left", "values": [4e-7,5e-7,6e-7,7e-7,8e-7,9e-7,1e-6,2e-6,3e-6,4e-6,5e-6,6e-6,7e-6,8e-6,9e-6,1e-5,2e-5,3e-5,4e-5,5e-5,6e-5,7e-5,8e-5,9e-5,1e-4], "tickSize": {"condition": {"test": "abs(log(datum.value)/LN10 - round(log(datum.value)/LN10)) < 0.001", "value": 8}, "value": 5}, "labelExpr": "abs(log(datum.value)/LN10 - round(log(datum.value)/LN10)) < 0.001 ? (round(log(datum.value)/LN10) == -3 ? '10⁻³' : round(log(datum.value)/LN10) == -4 ? '10⁻⁴' : round(log(datum.value)/LN10) == -5 ? '10⁻⁵' : '10⁻⁶') : ''", "labelPadding": 4, "title": ["0d e- Channel 7", "Diff. Energy Flux", "(ergs/(cm²-ster-s-eV))"], "titlePadding": 113}},
    "detail": {"field": "g", "type": "nominal"}
   }},
  {"data": {"name": "p7g"},
   "mark": {"type": "line", "color": "#00ff00", "strokeWidth": 1, "clip": true},
   "encoding": {
    "x": {"field": "t", "type": "quantitative", "scale": {"domain": [0, 40], "nice": false, "zero": false}, "axis": {"orient": "bottom", "values": [0,2,4,6,8,10,12,14,16,18,20,22,24,26,28,30,32,34,36,38,40], "labels": false, "tickSize": -8, "tickWidth": 1.5, "title": null}},
    "y": {"field": "v", "type": "quantitative", "scale": {"type": "log", "domain": [3.78e-7, 1.026e-4], "nice": false}, "axis": {"orient": "right", "values": [4e-7,5e-7,6e-7,7e-7,8e-7,9e-7,1e-6,2e-6,3e-6,4e-6,5e-6,6e-6,7e-6,8e-6,9e-6,1e-5,2e-5,3e-5,4e-5,5e-5,6e-5,7e-5,8e-5,9e-5,1e-4], "tickSize": {"condition": {"test": "abs(log(datum.value)/LN10 - round(log(datum.value)/LN10)) < 0.001", "value": 8}, "value": 5}, "labelExpr": "abs(log(datum.value)/LN10 - round(log(datum.value)/LN10)) < 0.001 ? (round(log(datum.value)/LN10) == -3 ? '10⁻³' : round(log(datum.value)/LN10) == -4 ? '10⁻⁴' : round(log(datum.value)/LN10) == -5 ? '10⁻⁵' : '10⁻⁶') : ''", "labelPadding": 6, "title": ["30d e- Channel 7", "Diff. Energy Flux", "(ergs/(cm²-ster-s-eV))"], "titlePadding": 6}},
    "detail": {"field": "g", "type": "nominal"}
   }}
 ],
 "resolve": {"scale": {"y": "independent"}, "axis": {"x": "independent", "y": "independent"}}
},
{"width": 1300, "height": 285,
 "layer": [
  {"data": {"name": "p5k"},
   "mark": {"type": "line", "color": "#000000", "strokeWidth": 1, "clip": true},
   "encoding": {
    "x": {"field": "t", "type": "quantitative", "scale": {"domain": [0, 40], "nice": false, "zero": false}, "axis": {"orient": "top", "values": [0,2,4,6,8,10,12,14,16,18,20,22,24,26,28,30,32,34,36,38,40], "labels": false, "tickSize": -8, "tickWidth": 1.5, "title": null}},
    "y": {"field": "v", "type": "quantitative", "scale": {"type": "log", "domain": [3.66e-7, 2.64e-4], "nice": false}, "axis": {"orient": "left", "values": [4e-7,5e-7,6e-7,7e-7,8e-7,9e-7,1e-6,2e-6,3e-6,4e-6,5e-6,6e-6,7e-6,8e-6,9e-6,1e-5,2e-5,3e-5,4e-5,5e-5,6e-5,7e-5,8e-5,9e-5,1e-4,2e-4], "tickSize": {"condition": {"test": "abs(log(datum.value)/LN10 - round(log(datum.value)/LN10)) < 0.001", "value": 8}, "value": 5}, "labelExpr": "abs(log(datum.value)/LN10 - round(log(datum.value)/LN10)) < 0.001 ? (round(log(datum.value)/LN10) == -3 ? '10⁻³' : round(log(datum.value)/LN10) == -4 ? '10⁻⁴' : round(log(datum.value)/LN10) == -5 ? '10⁻⁵' : '10⁻⁶') : ''", "labelPadding": 4, "title": ["0d e- Channel 5", "Diff. Energy Flux", "(ergs/(cm²-ster-s-eV))"], "titlePadding": 113}},
    "detail": {"field": "g", "type": "nominal"}
   }},
  {"data": {"name": "p5g"},
   "mark": {"type": "line", "color": "#00ff00", "strokeWidth": 1, "clip": true},
   "encoding": {
    "x": {"field": "t", "type": "quantitative", "scale": {"domain": [0, 40], "nice": false, "zero": false}, "axis": {"orient": "bottom", "values": [0,2,4,6,8,10,12,14,16,18,20,22,24,26,28,30,32,34,36,38,40], "labels": false, "tickSize": -8, "tickWidth": 1.5, "title": null}},
    "y": {"field": "v", "type": "quantitative", "scale": {"type": "log", "domain": [3.66e-7, 4.81e-4], "nice": false}, "axis": {"orient": "right", "values": [4e-7,5e-7,6e-7,7e-7,8e-7,9e-7,1e-6,2e-6,3e-6,4e-6,5e-6,6e-6,7e-6,8e-6,9e-6,1e-5,2e-5,3e-5,4e-5,5e-5,6e-5,7e-5,8e-5,9e-5,1e-4,2e-4,3e-4,4e-4], "tickSize": {"condition": {"test": "abs(log(datum.value)/LN10 - round(log(datum.value)/LN10)) < 0.001", "value": 8}, "value": 5}, "labelExpr": "abs(log(datum.value)/LN10 - round(log(datum.value)/LN10)) < 0.001 ? (round(log(datum.value)/LN10) == -3 ? '10⁻³' : round(log(datum.value)/LN10) == -4 ? '10⁻⁴' : round(log(datum.value)/LN10) == -5 ? '10⁻⁵' : '10⁻⁶') : ''", "labelPadding": 6, "title": ["30d e- Channel 5", "Diff. Energy Flux", "(ergs/(cm²-ster-s-eV))"], "titlePadding": 6}},
    "detail": {"field": "g", "type": "nominal"}
   }}
 ],
 "resolve": {"scale": {"y": "independent"}, "axis": {"x": "independent", "y": "independent"}}
},
{"width": 1300, "height": 284,
 "layer": [
  {"data": {"name": "p3k"},
   "mark": {"type": "line", "color": "#000000", "strokeWidth": 1, "clip": true},
   "encoding": {
    "x": {"field": "t", "type": "quantitative", "scale": {"domain": [0, 40], "nice": false, "zero": false}, "axis": {"orient": "top", "values": [0,2,4,6,8,10,12,14,16,18,20,22,24,26,28,30,32,34,36,38,40], "labels": false, "tickSize": -8, "tickWidth": 1.5, "title": null}},
    "y": {"field": "v", "type": "quantitative", "scale": {"type": "log", "domain": [3.66e-7, 5.04e-4], "nice": false}, "axis": {"orient": "left", "values": [4e-7,5e-7,6e-7,7e-7,8e-7,9e-7,1e-6,2e-6,3e-6,4e-6,5e-6,6e-6,7e-6,8e-6,9e-6,1e-5,2e-5,3e-5,4e-5,5e-5,6e-5,7e-5,8e-5,9e-5,1e-4,2e-4,3e-4,4e-4,5e-4], "tickSize": {"condition": {"test": "abs(log(datum.value)/LN10 - round(log(datum.value)/LN10)) < 0.001", "value": 8}, "value": 5}, "labelExpr": "abs(log(datum.value)/LN10 - round(log(datum.value)/LN10)) < 0.001 ? (round(log(datum.value)/LN10) == -3 ? '10⁻³' : round(log(datum.value)/LN10) == -4 ? '10⁻⁴' : round(log(datum.value)/LN10) == -5 ? '10⁻⁵' : '10⁻⁶') : ''", "labelPadding": 4, "title": ["0d e- Channel 3", "Diff. Energy Flux", "(ergs/(cm²-ster-s-eV))"], "titlePadding": 113}},
    "detail": {"field": "g", "type": "nominal"}
   }},
  {"data": {"name": "p3g"},
   "mark": {"type": "line", "color": "#00ff00", "strokeWidth": 1, "clip": true},
   "encoding": {
    "x": {"field": "t", "type": "quantitative", "scale": {"domain": [0, 40], "nice": false, "zero": false}, "axis": {"orient": "bottom", "values": [0,2,4,6,8,10,12,14,16,18,20,22,24,26,28,30,32,34,36,38,40], "labels": false, "tickSize": -8, "tickWidth": 1.5, "title": null}},
    "y": {"field": "v", "type": "quantitative", "scale": {"type": "log", "domain": [3.93e-7, 7.41e-4], "nice": false}, "axis": {"orient": "right", "values": [4e-7,5e-7,6e-7,7e-7,8e-7,9e-7,1e-6,2e-6,3e-6,4e-6,5e-6,6e-6,7e-6,8e-6,9e-6,1e-5,2e-5,3e-5,4e-5,5e-5,6e-5,7e-5,8e-5,9e-5,1e-4,2e-4,3e-4,4e-4,5e-4,6e-4,7e-4], "tickSize": {"condition": {"test": "abs(log(datum.value)/LN10 - round(log(datum.value)/LN10)) < 0.001", "value": 8}, "value": 5}, "labelExpr": "abs(log(datum.value)/LN10 - round(log(datum.value)/LN10)) < 0.001 ? (round(log(datum.value)/LN10) == -3 ? '10⁻³' : round(log(datum.value)/LN10) == -4 ? '10⁻⁴' : round(log(datum.value)/LN10) == -5 ? '10⁻⁵' : '10⁻⁶') : ''", "labelPadding": 6, "title": ["30d e- Channel 3", "Diff. Energy Flux", "(ergs/(cm²-ster-s-eV))"], "titlePadding": 6}},
    "detail": {"field": "g", "type": "nominal"}
   }}
 ],
 "resolve": {"scale": {"y": "independent"}, "axis": {"x": "independent", "y": "independent"}}
},
{"width": 1300, "height": 191,
 "layer": [
  {"data": {"name": "p1k"},
   "mark": {"type": "line", "color": "#000000", "strokeWidth": 1, "clip": true},
   "encoding": {
    "x": {"field": "t", "type": "quantitative", "scale": {"domain": [0, 40], "nice": false, "zero": false}, "axis": {"orient": "top", "values": [0,2,4,6,8,10,12,14,16,18,20,22,24,26,28,30,32,34,36,38,40], "labels": false, "tickSize": -8, "tickWidth": 1.5, "title": null}},
    "y": {"field": "v", "type": "quantitative", "scale": {"type": "log", "domain": [3.71e-7, 1.9e-3], "nice": false}, "axis": {"orient": "left", "values": [4e-7,5e-7,6e-7,7e-7,8e-7,9e-7,1e-6,2e-6,3e-6,4e-6,5e-6,6e-6,7e-6,8e-6,9e-6,1e-5,2e-5,3e-5,4e-5,5e-5,6e-5,7e-5,8e-5,9e-5,1e-4,2e-4,3e-4,4e-4,5e-4,6e-4,7e-4,8e-4,9e-4,1e-3], "tickSize": {"condition": {"test": "abs(log(datum.value)/LN10 - round(log(datum.value)/LN10)) < 0.001", "value": 8}, "value": 5}, "labelExpr": "abs(log(datum.value)/LN10 - round(log(datum.value)/LN10)) < 0.001 ? (round(log(datum.value)/LN10) == -3 ? '10⁻³' : round(log(datum.value)/LN10) == -4 ? '10⁻⁴' : round(log(datum.value)/LN10) == -5 ? '10⁻⁵' : '10⁻⁶') : ''", "labelPadding": 4, "title": ["0d e- Channel 1", "Diff. Energy Flux", "(ergs/(cm²-ster-s-eV))"], "titlePadding": 113}},
    "detail": {"field": "g", "type": "nominal"}
   }},
  {"data": {"name": "p1g"},
   "mark": {"type": "line", "color": "#00ff00", "strokeWidth": 1, "clip": true},
   "encoding": {
    "x": {"field": "t", "type": "quantitative", "scale": {"domain": [0, 40], "nice": false, "zero": false}, "axis": {"orient": "bottom", "values": [0,2,4,6,8,10,12,14,16,18,20,22,24,26,28,30,32,34,36,38,40], "labels": false, "tickSize": {"condition": {"test": "datum.value % 4 == 0", "value": 9}, "value": 5}, "tickWidth": 1.5, "title": null}},
    "y": {"field": "v", "type": "quantitative", "scale": {"type": "log", "domain": [3.84e-7, 4.37e-4], "nice": false}, "axis": {"orient": "right", "values": [4e-7,5e-7,6e-7,7e-7,8e-7,9e-7,1e-6,2e-6,3e-6,4e-6,5e-6,6e-6,7e-6,8e-6,9e-6,1e-5,2e-5,3e-5,4e-5,5e-5,6e-5,7e-5,8e-5,9e-5,1e-4,2e-4,3e-4,4e-4], "tickSize": {"condition": {"test": "abs(log(datum.value)/LN10 - round(log(datum.value)/LN10)) < 0.001", "value": 8}, "value": 5}, "labelExpr": "abs(log(datum.value)/LN10 - round(log(datum.value)/LN10)) < 0.001 ? (round(log(datum.value)/LN10) == -3 ? '10⁻³' : round(log(datum.value)/LN10) == -4 ? '10⁻⁴' : round(log(datum.value)/LN10) == -5 ? '10⁻⁵' : '10⁻⁶') : ''", "labelPadding": 6, "title": ["30d e- Channel 1", "Diff. Energy Flux", "(ergs/(cm²-ster-s-eV))"], "titlePadding": 6}},
    "detail": {"field": "g", "type": "nominal"}
   }}
 ],
 "resolve": {"scale": {"y": "independent"}, "axis": {"x": "independent", "y": "independent"}}
},
{"width": 1300, "height": 89,
 "data": {"name": "ann"},
 "view": {"stroke": null},
 "mark": {"type": "text", "align": "left", "dx": -17, "fontSize": 13, "font": "Liberation Serif, Times New Roman, serif", "baseline": "middle", "color": "#000"},
 "encoding": {
  "x": {"field": "t", "type": "quantitative", "scale": {"domain": [0, 40], "nice": false, "zero": false}, "axis": null},
  "y": {"field": "r", "type": "ordinal", "sort": ["1992/211 22", "GcLat (deg)", "GcLon (deg)", "Alt (km)"], "scale": {"padding": 1.118}, "axis": {"title": null, "domain": false, "ticks": false, "tickSize": 0, "labelAlign": "center", "labelPadding": 112, "labelFontSize": 13, "labelColor": "#000"}},
  "text": {"field": "label", "type": "nominal"}
 }
}
],
"config": {
 "view": {"stroke": "#000000", "strokeWidth": 3},
 "font": "Liberation Serif, Times New Roman, serif",
 "axis": {"labelFont": "Liberation Serif, Times New Roman, serif", "titleFont": "Liberation Serif, Times New Roman, serif", "labelFontSize": 12, "titleFontSize": 13, "titleFontWeight": "normal", "titleLineHeight": 15, "labelColor": "#000", "titleColor": "#222", "tickColor": "#000", "grid": false, "domain": false, "labelOverlap": false, "labelFlush": false}
}
}
